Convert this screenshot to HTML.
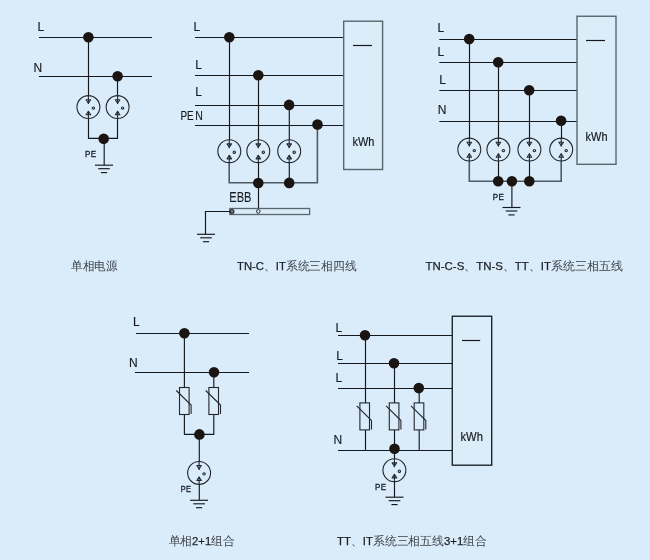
<!DOCTYPE html>
<html><head><meta charset="utf-8">
<style>
html,body{margin:0;padding:0;width:650px;height:560px;overflow:hidden;background:#daebf9;}
svg{position:absolute;left:0;top:0;display:block;will-change:transform;}
text{font-family:"Liberation Sans",sans-serif;}
.lbl{font-size:12px;fill:#171b20;stroke:#171b20;stroke-width:0.15px;}
.pe{font-size:9.4px;fill:#15191d;stroke:#15191d;stroke-width:0.3px;letter-spacing:0.4px;}
.kwh{font-size:12.6px;stroke-width:0.2px;}
.ebb{font-size:15.2px;stroke-width:0.05px;}
.cap{font-size:11.5px;fill:#3c4248;}
.lat{fill:#1c2025;stroke:#1c2025;stroke-width:0.25px;}
</style></head><body>
<svg width="650" height="560" viewBox="0 0 650 560">
<defs>
  <g id="sock" fill="none" stroke="#23272c" stroke-width="1.1">
    <circle cx="0" cy="0" r="11.45"/>
    <line x1="0" y1="-11.3" x2="0" y2="-3"/>
    <path d="M-2.3,-7.35 L2.3,-7.35 L0,-3.9 Z" stroke-width="1.05" stroke-linejoin="round"/>
    <line x1="0" y1="11.3" x2="0" y2="3.8"/>
    <path d="M-2.3,7.65 L2.3,7.65 L0,4.2 Z" stroke-width="1.05" stroke-linejoin="round"/>
    <circle cx="5" cy="1.0" r="1.15"/>
  </g>
  <g id="gnd" stroke="#15191d" stroke-width="1.15">
    <line x1="-9" y1="0" x2="9" y2="0"/>
    <line x1="-5.8" y1="3.5" x2="5.8" y2="3.5"/>
    <line x1="-3.1" y1="7.4" x2="3.1" y2="7.4"/>
  </g>
  <g id="var" fill="none">
    <rect x="-4.8" y="0" width="9.6" height="27" stroke="#23272c" stroke-width="1.1"/>
    <path d="M-8,3 L6.8,17.6 L6.8,26.5" stroke="#23272c" stroke-width="1.1"/>
  </g>
</defs>
<line x1="39" y1="37.5" x2="152" y2="37.5" stroke="#15191d" stroke-width="1.15"/>
<line x1="39" y1="76.5" x2="152" y2="76.5" stroke="#15191d" stroke-width="1.15"/>
<line x1="88.5" y1="37" x2="88.5" y2="96" stroke="#15191d" stroke-width="1.15"/>
<line x1="117.5" y1="76" x2="117.5" y2="96" stroke="#15191d" stroke-width="1.15"/>
<polyline points="88.5,118 88.5,138.3 117.5,138.3 117.5,118" stroke="#15191d" stroke-width="1.15" fill="none"/>
<line x1="104.2" y1="139" x2="104.2" y2="165.2" stroke="#15191d" stroke-width="1.15"/>
<use href="#sock" x="88.4" y="107.1"/>
<use href="#sock" x="117.6" y="107.1"/>
<circle cx="88.4" cy="37.2" r="5.3" fill="#1a1512"/>
<circle cx="117.6" cy="76.2" r="5.3" fill="#1a1512"/>
<circle cx="103.7" cy="138.8" r="5.3" fill="#1a1512"/>
<use href="#gnd" x="104" y="165.2"/>
<text class="lbl" x="37.5" y="31">L</text>
<text class="lbl" x="33.5" y="72.3">N</text>
<text class="pe" x="85.1" y="157" textLength="11.4" lengthAdjust="spacingAndGlyphs">PE</text>
<line x1="195" y1="37.5" x2="344" y2="37.5" stroke="#15191d" stroke-width="1.15"/>
<line x1="195" y1="75.5" x2="344" y2="75.5" stroke="#15191d" stroke-width="1.15"/>
<line x1="195" y1="105.5" x2="344" y2="105.5" stroke="#15191d" stroke-width="1.15"/>
<line x1="195" y1="125.5" x2="344" y2="125.5" stroke="#15191d" stroke-width="1.15"/>
<line x1="229.5" y1="37" x2="229.5" y2="140" stroke="#15191d" stroke-width="1.15"/>
<line x1="258.5" y1="75" x2="258.5" y2="140" stroke="#15191d" stroke-width="1.15"/>
<line x1="289.3" y1="105" x2="289.3" y2="140" stroke="#15191d" stroke-width="1.15"/>
<line x1="258.5" y1="162" x2="258.5" y2="211" stroke="#15191d" stroke-width="1.15"/>
<line x1="289.3" y1="162" x2="289.3" y2="183" stroke="#15191d" stroke-width="1.15"/>
<polyline points="229.2,162 229.2,182.8 317.4,182.8 317.4,125" stroke="#4f5b63" stroke-width="1.6" fill="none"/>
<rect x="343.7" y="21.2" width="38.9" height="148.3" fill="#dcedfa" stroke="#5a666e" stroke-width="1.4"/>
<line x1="353" y1="45.5" x2="372" y2="45.5" stroke="#15191d" stroke-width="1.2"/>
<text class="lbl kwh" x="352.4" y="146" textLength="22" lengthAdjust="spacingAndGlyphs">kWh</text>
<use href="#sock" x="229.3" y="151.2"/>
<use href="#sock" x="258.3" y="151.2"/>
<use href="#sock" x="289.2" y="151.2"/>
<circle cx="229.3" cy="37.2" r="5.3" fill="#1a1512"/>
<circle cx="258.3" cy="75.2" r="5.3" fill="#1a1512"/>
<circle cx="289.1" cy="104.9" r="5.3" fill="#1a1512"/>
<circle cx="317.5" cy="124.5" r="5.3" fill="#1a1512"/>
<circle cx="258.3" cy="183" r="5.3" fill="#1a1512"/>
<circle cx="289.2" cy="182.9" r="5.3" fill="#1a1512"/>
<text class="lbl" x="193.5" y="31">L</text>
<text class="lbl" x="195.2" y="69.3">L</text>
<text class="lbl" x="195.2" y="96">L</text>
<text class="lbl" x="180.5" y="120" textLength="13.2" lengthAdjust="spacingAndGlyphs">PE</text>
<text class="lbl" x="195.2" y="120" textLength="7.6" lengthAdjust="spacingAndGlyphs">N</text>
<text class="lbl ebb" x="229.3" y="201.8" textLength="22.2" lengthAdjust="spacingAndGlyphs">EBB</text>
<rect x="229.8" y="208.5" width="79.8" height="6" fill="#dcedfa" stroke="#5a666e" stroke-width="1.3"/>
<circle cx="232" cy="211.4" r="1.9" fill="#7a858c" stroke="#23272c" stroke-width="1.2"/>
<circle cx="258.3" cy="211.4" r="1.8" fill="#dcedfa" stroke="#23272c" stroke-width="1"/>
<polyline points="230.5,211.5 205.5,211.5 205.5,234.3" stroke="#15191d" stroke-width="1.15" fill="none"/>
<use href="#gnd" x="206" y="234.3"/>
<line x1="439.3" y1="39.5" x2="577" y2="39.5" stroke="#15191d" stroke-width="1.15"/>
<line x1="439.3" y1="62.5" x2="577" y2="62.5" stroke="#15191d" stroke-width="1.15"/>
<line x1="439.3" y1="90.5" x2="577" y2="90.5" stroke="#15191d" stroke-width="1.15"/>
<line x1="439.3" y1="121.5" x2="577" y2="121.5" stroke="#15191d" stroke-width="1.15"/>
<line x1="469.5" y1="39" x2="469.5" y2="139" stroke="#15191d" stroke-width="1.15"/>
<line x1="498.5" y1="62" x2="498.5" y2="139" stroke="#15191d" stroke-width="1.15"/>
<line x1="529.5" y1="90" x2="529.5" y2="139" stroke="#15191d" stroke-width="1.15"/>
<line x1="561.5" y1="121" x2="561.5" y2="139" stroke="#15191d" stroke-width="1.15"/>
<line x1="498.5" y1="161" x2="498.5" y2="181.3" stroke="#15191d" stroke-width="1.15"/>
<line x1="529.5" y1="161" x2="529.5" y2="181.3" stroke="#15191d" stroke-width="1.15"/>
<line x1="511.9" y1="181.3" x2="511.9" y2="207.5" stroke="#15191d" stroke-width="1.15"/>
<polyline points="469.3,161 469.3,181.3 561.2,181.3 561.2,161" stroke="#4f5b63" stroke-width="1.6" fill="none"/>
<rect x="577" y="16.25" width="39" height="148.05" fill="#dcedfa" stroke="#5a666e" stroke-width="1.4"/>
<line x1="586" y1="40.5" x2="605" y2="40.5" stroke="#15191d" stroke-width="1.2"/>
<text class="lbl kwh" x="585.5" y="140.5" textLength="22" lengthAdjust="spacingAndGlyphs">kWh</text>
<use href="#sock" x="469.3" y="149.6"/>
<use href="#sock" x="498.4" y="149.6"/>
<use href="#sock" x="529.4" y="149.6"/>
<use href="#sock" x="561.2" y="149.6"/>
<circle cx="469.2" cy="39.1" r="5.3" fill="#1a1512"/>
<circle cx="498.2" cy="62.2" r="5.3" fill="#1a1512"/>
<circle cx="529.2" cy="90.3" r="5.3" fill="#1a1512"/>
<circle cx="561.1" cy="120.7" r="5.3" fill="#1a1512"/>
<circle cx="498.2" cy="181.3" r="5.3" fill="#1a1512"/>
<circle cx="511.9" cy="181.3" r="5.3" fill="#1a1512"/>
<circle cx="529.3" cy="181.3" r="5.3" fill="#1a1512"/>
<use href="#gnd" x="511.5" y="207.5"/>
<text class="lbl" x="437.5" y="31.8">L</text>
<text class="lbl" x="437.5" y="56">L</text>
<text class="lbl" x="439.3" y="84.1">L</text>
<text class="lbl" x="437.8" y="113.8">N</text>
<text class="pe" x="492.8" y="200" textLength="11.4" lengthAdjust="spacingAndGlyphs">PE</text>
<line x1="136" y1="333.5" x2="249" y2="333.5" stroke="#15191d" stroke-width="1.15"/>
<line x1="135" y1="372.5" x2="249" y2="372.5" stroke="#15191d" stroke-width="1.15"/>
<line x1="184.4" y1="333" x2="184.4" y2="388" stroke="#15191d" stroke-width="1.15"/>
<line x1="213.8" y1="372" x2="213.8" y2="388" stroke="#15191d" stroke-width="1.15"/>
<polyline points="184.4,414 184.4,434.4 213.8,434.4 213.8,414" stroke="#15191d" stroke-width="1.15" fill="none"/>
<line x1="199.3" y1="434.4" x2="199.3" y2="462" stroke="#15191d" stroke-width="1.15"/>
<line x1="199.3" y1="484" x2="199.3" y2="500.3" stroke="#15191d" stroke-width="1.15"/>
<use href="#var" x="184.3" y="387.5"/>
<use href="#var" x="213.7" y="387.5"/>
<circle cx="184.4" cy="333.3" r="5.3" fill="#1a1512"/>
<circle cx="214" cy="372.3" r="5.3" fill="#1a1512"/>
<circle cx="199.4" cy="434.4" r="5.3" fill="#1a1512"/>
<use href="#sock" x="199.1" y="472.9"/>
<use href="#gnd" x="199.1" y="500.3"/>
<text class="lbl" x="133" y="326">L</text>
<text class="lbl" x="129" y="367.4">N</text>
<text class="pe" x="180.8" y="491.9" textLength="10.6" lengthAdjust="spacingAndGlyphs">PE</text>
<line x1="338" y1="335.5" x2="452.3" y2="335.5" stroke="#15191d" stroke-width="1.15"/>
<line x1="338" y1="363.5" x2="452.3" y2="363.5" stroke="#15191d" stroke-width="1.15"/>
<line x1="338" y1="388.5" x2="452.3" y2="388.5" stroke="#15191d" stroke-width="1.15"/>
<line x1="338" y1="450.5" x2="452.3" y2="450.5" stroke="#15191d" stroke-width="1.15"/>
<line x1="365.5" y1="335" x2="365.5" y2="403" stroke="#15191d" stroke-width="1.15"/>
<line x1="394.5" y1="363" x2="394.5" y2="403" stroke="#15191d" stroke-width="1.15"/>
<line x1="419.2" y1="388" x2="419.2" y2="403" stroke="#15191d" stroke-width="1.15"/>
<line x1="365.5" y1="430" x2="365.5" y2="450.5" stroke="#15191d" stroke-width="1.15"/>
<line x1="394.5" y1="430" x2="394.5" y2="450.5" stroke="#15191d" stroke-width="1.15"/>
<line x1="419.2" y1="430" x2="419.2" y2="450.5" stroke="#15191d" stroke-width="1.15"/>
<line x1="394.5" y1="450" x2="394.5" y2="459" stroke="#15191d" stroke-width="1.15"/>
<line x1="394.5" y1="481" x2="394.5" y2="497.2" stroke="#15191d" stroke-width="1.15"/>
<rect x="452.3" y="316.25" width="39.4" height="148.95" fill="#dcedfa" stroke="#1e262e" stroke-width="1.4"/>
<line x1="462" y1="340.5" x2="480.2" y2="340.5" stroke="#15191d" stroke-width="1.2"/>
<text class="lbl kwh" x="460.5" y="441.1" textLength="22.4" lengthAdjust="spacingAndGlyphs">kWh</text>
<use href="#var" x="364.7" y="402.9"/>
<use href="#var" x="394.1" y="402.9"/>
<use href="#var" x="419" y="402.9"/>
<circle cx="365" cy="335.3" r="5.3" fill="#1a1512"/>
<circle cx="394" cy="363.2" r="5.3" fill="#1a1512"/>
<circle cx="418.8" cy="388.1" r="5.3" fill="#1a1512"/>
<circle cx="394.5" cy="448.7" r="5.3" fill="#1a1512"/>
<use href="#sock" x="394.4" y="470.2"/>
<use href="#gnd" x="394.5" y="497.2"/>
<text class="lbl" x="335.5" y="332">L</text>
<text class="lbl" x="336.3" y="360.3">L</text>
<text class="lbl" x="335.5" y="381.9">L</text>
<text class="lbl" x="333.5" y="443.6">N</text>
<text class="pe" x="375" y="489.9" textLength="11.3" lengthAdjust="spacingAndGlyphs">PE</text>
<text class="cap" x="71" y="270" textLength="46.2" lengthAdjust="spacingAndGlyphs">单相电源</text>
<text class="cap" x="237" y="270" textLength="119.7" lengthAdjust="spacingAndGlyphs"><tspan class="lat">TN-C</tspan>、<tspan class="lat">IT</tspan>系统三相四线</text>
<text class="cap" x="425.5" y="270" textLength="197.1" lengthAdjust="spacingAndGlyphs"><tspan class="lat">TN-C-S</tspan>、<tspan class="lat">TN-S</tspan>、<tspan class="lat">TT</tspan>、<tspan class="lat">IT</tspan>系统三相五线</text>
<text class="cap" x="168.5" y="545" textLength="66.3" lengthAdjust="spacingAndGlyphs">单相<tspan class="lat">2+1</tspan>组合</text>
<text class="cap" x="337" y="545" textLength="150" lengthAdjust="spacingAndGlyphs"><tspan class="lat">TT</tspan>、<tspan class="lat">IT</tspan>系统三相五线<tspan class="lat">3+1</tspan>组合</text>
</svg>
</body></html>
